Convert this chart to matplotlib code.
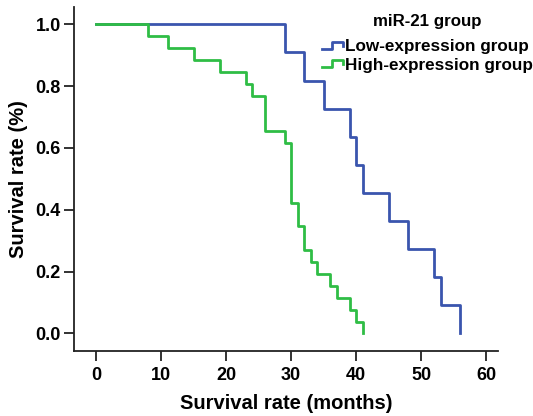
import matplotlib
matplotlib.use('Agg')
import matplotlib.pyplot as plt

plt.rcParams['font.family'] = ['Liberation Sans', 'DejaVu Sans']
plt.rcParams['font.weight'] = 'bold'

# Kaplan-Meier steps
low_months = [0, 29, 32, 35, 39, 40, 41, 45, 48, 52, 53, 56]
low_surv = [1.0, 0.909, 0.818, 0.727, 0.636, 0.545, 0.455, 0.364, 0.273, 0.182, 0.091, 0.0]

high_months = [0, 8, 11, 15, 19, 23, 24, 26, 29, 30, 31, 32, 33, 34, 36, 37, 39, 40, 41]
high_surv = [1.0, 0.962, 0.923, 0.885, 0.846, 0.808, 0.769, 0.654, 0.615, 0.423,
             0.346, 0.269, 0.231, 0.192, 0.154, 0.115, 0.077, 0.038, 0.0]

x_ticks = [0, 10, 20, 30, 40, 50, 60]
y_ticks = [0.0, 0.2, 0.4, 0.6, 0.8, 1.0]

blue = '#3a55ae'
green = '#2fbd45'

fig = plt.figure(figsize=(5.33, 4.16), dpi=100)
ax = fig.add_axes([0.1388, 0.1563, 0.7955, 0.8269])

ax.step(low_months, low_surv, where='post', color=blue, lw=2.0)
ax.step(high_months, high_surv, where='post', color=green, lw=2.0)

ax.set_xlim(-3.4, 61.8)
ax.set_ylim(-0.057, 1.056)
ax.set_xticks(x_ticks)
ax.set_yticks(y_ticks)
ax.set_yticklabels([f'{v:.1f}' for v in y_ticks])

for side in ['top', 'right']:
    ax.spines[side].set_visible(False)
for side in ['left', 'bottom']:
    ax.spines[side].set_linewidth(1.3)
    ax.spines[side].set_color('#222222')

ax.tick_params(axis='both', labelsize=13, width=1.3, length=7.5, color='#222222')
ax.tick_params(axis='y', pad=2)
ax.tick_params(axis='x', pad=4)

ax.set_xlabel('Survival rate (months)', fontsize=14.5, fontweight='bold', labelpad=7)
ax.set_ylabel('Survival rate (%)', fontsize=14.5, fontweight='bold', labelpad=5)


# legend drawn by hand, with step-shaped handles
def px(x, y):
    return (x - 74) / 424.0, (351 - y) / 344.0


ax.text(*px(427, 22), 'miR-21 group', transform=ax.transAxes, ha='center', va='center',
        fontsize=12.2, fontweight='bold')
labels = ['Low-expression group', 'High-expression group']
for i, (lab, col) in enumerate(zip(labels, [blue, green])):
    y0 = 49 + i * 18.5
    pts = [px(322, y0), px(332, y0), px(332, y0 - 7), px(343, y0 - 7), px(343, y0 - 3)]
    ax.plot([p[0] for p in pts], [p[1] for p in pts], color=col, lw=2.0,
            transform=ax.transAxes, clip_on=False)
    ax.text(*px(345, y0 - 2), lab, transform=ax.transAxes, ha='left', va='center',
            fontsize=12.3, fontweight='bold')

fig.savefig('out.png', dpi=100)
